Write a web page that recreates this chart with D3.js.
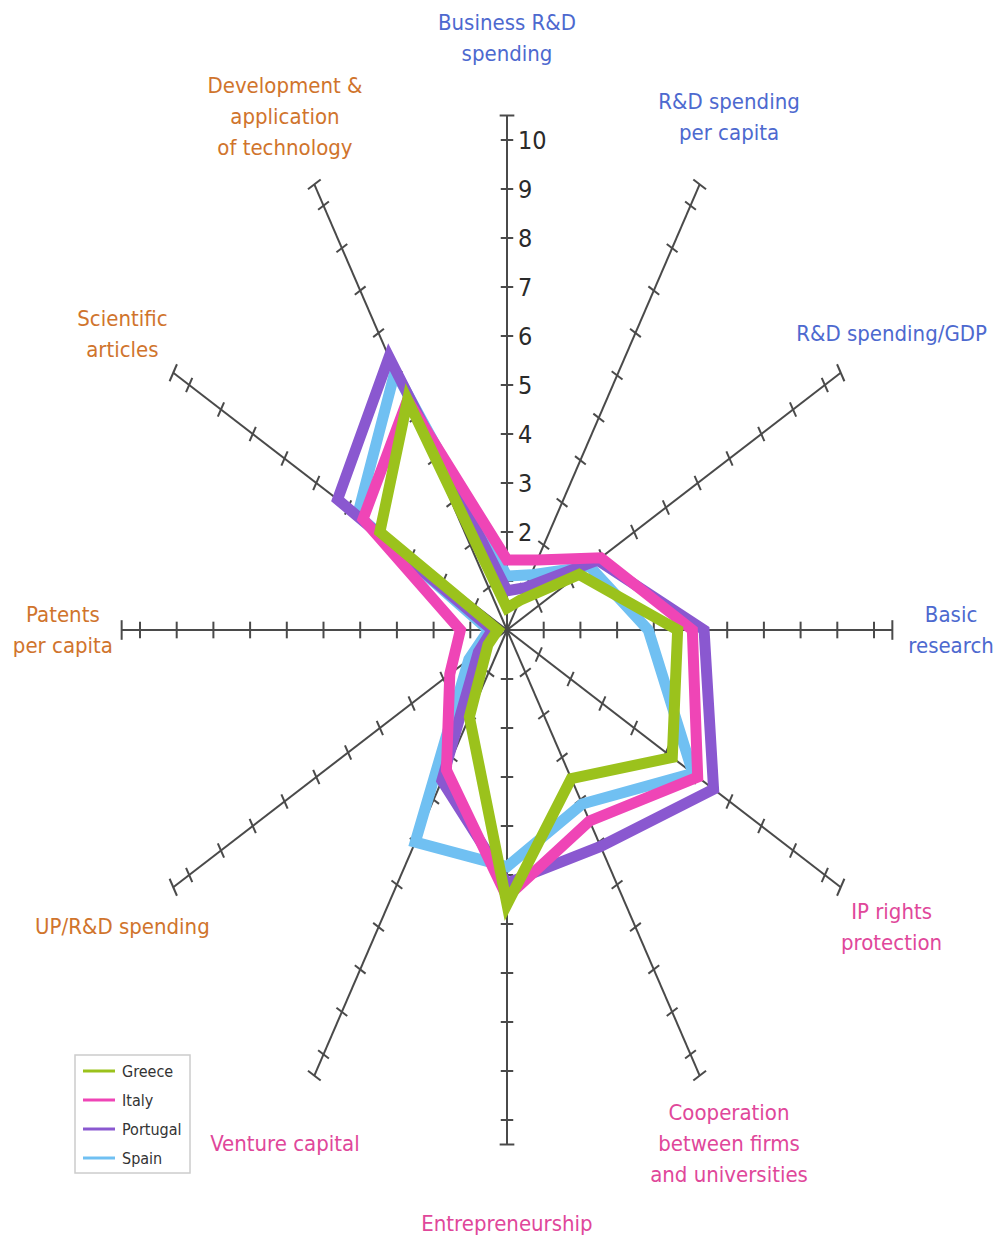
<!DOCTYPE html>
<html>
<head>
<meta charset="utf-8">
<script src="https://cdn.jsdelivr.net/npm/d3@7"></script>
<style>
  body { margin: 0; background: #fff; }
  svg text { font-family: "DejaVu Sans Condensed", "DejaVu Sans", sans-serif; }
</style>
</head>
<body>
<svg id="chart" width="1004" height="1238"></svg>
<script>
// axes, clockwise from the top
var categories = [
  ["Business R&D", "spending"],
  ["R&D spending", "per capita"],
  ["R&D spending/GDP"],
  ["Basic", "research"],
  ["IP rights", "protection"],
  ["Cooperation", "between firms", "and universities"],
  ["Entrepreneurship"],
  ["Venture capital"],
  ["UP/R&D spending"],
  ["Patents", "per capita"],
  ["Scientific", "articles"],
  ["Development &", "application", "of technology"]
];
var countries = ["Greece", "Italy", "Portugal", "Spain"];
var greece   = [0.45, 0.7, 2.27, 4.65, 5.2, 3.5, 5.6, 2.05, 0.6, 0.25, 4.0, 5.42];
var italy    = [1.43, 1.65, 2.95, 5.05, 6.0, 4.5, 5.45, 3.3, 1.8, 1.27, 4.53, 5.42];
var portugal = [0.8, 1.0, 2.85, 5.37, 6.5, 5.1, 5.17, 3.55, 0.9, 0.4, 5.33, 6.43];
var spain    = [1.1, 1.3, 2.6, 3.85, 5.85, 4.1, 4.83, 5.0, 1.2, 0.5, 4.7, 6.1];
var tickValues = [1, 2, 3, 4, 5, 6, 7, 8, 9, 10];
var tickLabels = [2, 3, 4, 5, 6, 7, 8, 9, 10];

var seriesColor = { Greece: "#9bc21c", Italy: "#ef45b6", Portugal: "#8a58d0", Spain: "#70c0f2" };
var seriesData = { Greece: greece, Italy: italy, Portugal: portugal, Spain: spain };

var svg = d3.select("#chart");
var cx = 507, cy = 630, rMax = 10.5;

// the chart is stretched vertically, so x and y get their own scale
var xScale = d3.scaleLinear().domain([-rMax, rMax]).range([cx - rMax * 36.7, cx + rMax * 36.7]);
var yScale = d3.scaleLinear().domain([-rMax, rMax]).range([cy + rMax * 49, cy - rMax * 49]);

var n = categories.length;
function angle(i) { return i * 2 * Math.PI / n; }
function pt(r, i) {
  var a = angle(i);
  return [xScale(r * Math.sin(a)), yScale(r * Math.cos(a))];
}

var axisColor = "#4a4a4a";
var axes = svg.append("g");
categories.forEach(function (c, i) {
  var a = angle(i), s = Math.sin(a), co = Math.cos(a);
  var p0 = pt(0, i), p1 = pt(rMax, i);
  axes.append("line")
    .attr("x1", p0[0]).attr("y1", p0[1]).attr("x2", p1[0]).attr("y2", p1[1])
    .attr("stroke", axisColor).attr("stroke-width", 2);
  var ticks = tickValues.concat([rMax]);
  ticks.forEach(function (t) {
    var h = t === rMax ? 0.2 : 0.17;
    axes.append("line")
      .attr("x1", xScale(t * s + h * co)).attr("y1", yScale(t * co - h * s))
      .attr("x2", xScale(t * s - h * co)).attr("y2", yScale(t * co + h * s))
      .attr("stroke", axisColor).attr("stroke-width", 2);
  });
});

// tick labels on the top axis
axes.selectAll(".tl")
  .data(tickLabels)
  .enter().append("text")
  .attr("class", "tl")
  .attr("x", xScale(0) + 11)
  .attr("y", function (d) { return yScale(d); })
  .attr("dy", "0.36em")
  .attr("font-size", 25)
  .attr("fill", "#2a2a2a")
  .text(function (d) { return d; });

// series polygons
var line = d3.line().curve(d3.curveLinearClosed);
["Spain", "Portugal", "Italy", "Greece"].forEach(function (name) {
  var vals = seriesData[name];
  svg.append("path")
    .attr("d", line(vals.map(function (v, i) { return pt(v, i); })))
    .attr("fill", "none")
    .attr("stroke", seriesColor[name])
    .attr("stroke-width", 11)
    .attr("stroke-linejoin", "miter")
    .attr("stroke-miterlimit", 6);
});

// category labels
function labelColor(i) {
  if (i < 4) return "#4d69cf";
  if (i < 8) return "#e0479a";
  return "#d0742c";
}
var lineH = 31;
categories.forEach(function (lines, i) {
  var p = pt(12.1, i);
  var t = svg.append("text")
    .attr("text-anchor", "middle")
    .attr("font-size", 22)
    .attr("fill", labelColor(i));
  lines.forEach(function (l, k) {
    t.append("tspan")
      .attr("x", p[0])
      .attr("y", p[1] + (k - (lines.length - 1) / 2) * lineH)
      .attr("dy", "0.36em")
      .text(l);
  });
});

// legend
var lg = svg.append("g").attr("transform", "translate(75,1055)");
lg.append("rect")
  .attr("width", 115).attr("height", 118)
  .attr("fill", "#fff").attr("stroke", "#ccc").attr("stroke-width", 1.5);
countries.forEach(function (name, k) {
  var y = 16 + k * 29;
  lg.append("line")
    .attr("x1", 8).attr("x2", 40).attr("y1", y).attr("y2", y)
    .attr("stroke", seriesColor[name]).attr("stroke-width", 3);
  lg.append("text")
    .attr("x", 47).attr("y", y).attr("dy", "0.36em")
    .attr("font-size", 16).attr("fill", "#333")
    .text(name);
});
</script>
</body>
</html>
